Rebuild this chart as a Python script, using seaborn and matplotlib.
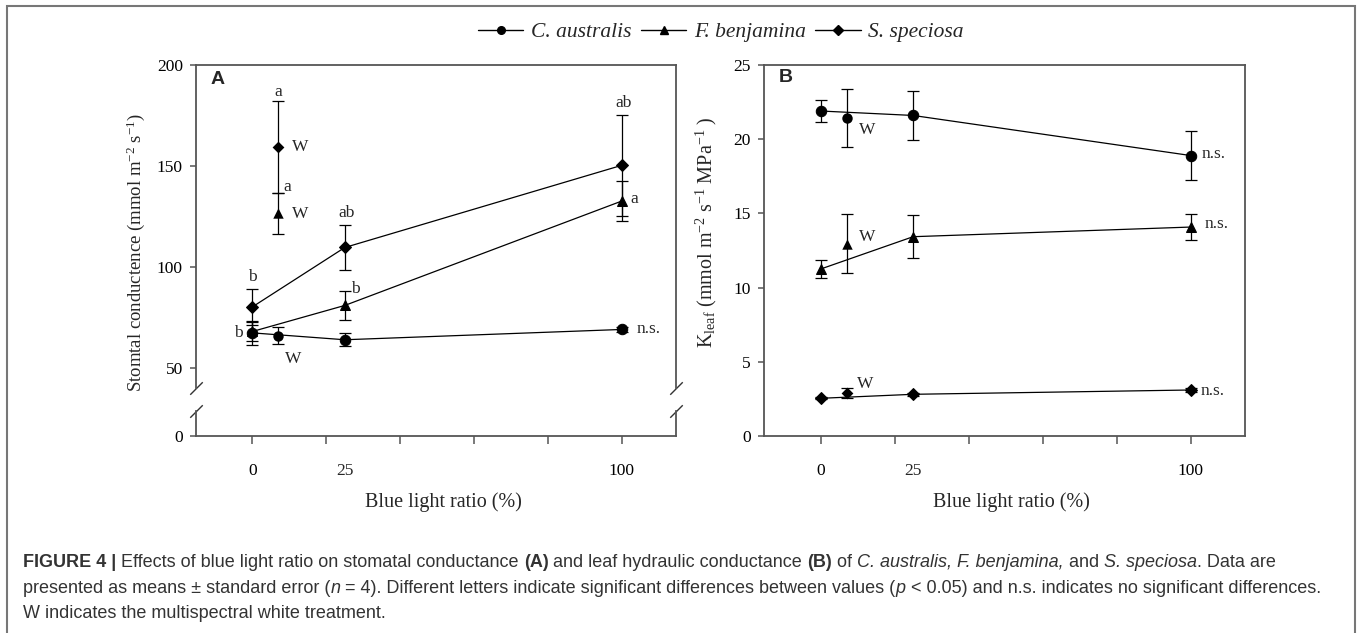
import numpy as np
import pandas as pd
import matplotlib
matplotlib.use("Agg")
import matplotlib.pyplot as plt
import seaborn as sns
from matplotlib.patches import Rectangle
from matplotlib.lines import Line2D
from matplotlib.font_manager import FontProperties

# ---- data ----
blue_ratio = [0, 25, 100]
white_x = 7  # position used for the multispectral white (W) treatment
species = ["C. australis", "F. benjamina", "S. speciosa"]
species_markers = ["o", "^", "D"]

# stomatal conductance (A)
gs_ca = [67.3, 63.9, 69.0]
gs_ca_se = [5.8, 3.1, 1.2]
gs_fb = [68.0, 80.9, 132.6]
gs_fb_se = [4.8, 7.2, 9.7]
gs_ss = [80.2, 109.6, 150.3]
gs_ss_se = [8.9, 11.2, 24.9]
gs_white = [66.0, 126.5, 159.5]
gs_white_se = [4.4, 10.3, 22.7]

# leaf hydraulic conductance (B)
kl_ca = [21.9, 21.6, 18.9]
kl_ca_se = [0.74, 1.63, 1.62]
kl_fb = [11.25, 13.43, 14.08]
kl_fb_se = [0.6, 1.46, 0.9]
kl_ss = [2.54, 2.81, 3.10]
kl_ss_se = [0.08, 0.10, 0.15]
kl_white = [21.4, 12.96, 2.88]
kl_white_se = [1.95, 1.97, 0.33]

# significance letters: (text, x, y)
letters_a = [("a", 7, 186.5), ("W", 13, 159.5), ("a", 9.4, 139.5), ("W", 12.9, 126.2),
             ("W", 11.1, 54.6), ("b", 0, 94.8), ("b", -3.9, 67.3), ("ab", 25.6, 126.8),
             ("b", 27.9, 88.8), ("ab", 100.5, 181), ("a", 103.4, 133.4), ("n.s.", 107.2, 69)]
letters_b = [("W", 12.5, 20.6), ("n.s.", 106.3, 19.0), ("W", 12.5, 13.4),
             ("n.s.", 107, 14.26), ("W", 12, 3.5), ("n.s.", 106, 3.05)]

sns.set_style("ticks")
plt.rcParams["font.family"] = ["Liberation Serif", "DejaVu Serif"]
plt.rcParams["mathtext.fontset"] = "custom"
plt.rcParams["mathtext.rm"] = "Liberation Serif"
plt.rcParams["mathtext.it"] = "Liberation Serif:italic"
plt.rcParams["mathtext.bf"] = "Liberation Serif:bold"

W, H = 1357, 633
fig = plt.figure(figsize=(W / 100, H / 100), dpi=100)
fig.patch.set_facecolor("white")


def px_box(left, top, right, bottom):
    return [left / W, 1 - bottom / H, (right - left) / W, (bottom - top) / H]


ax_top = fig.add_axes(px_box(196, 65, 676, 388))
ax_bot = fig.add_axes(px_box(196, 411, 676, 436))
ax_b = fig.add_axes(px_box(764, 65, 1245, 436))

spine_col = "#555555"
tick_fs = 12.5
for ax in (ax_top, ax_bot, ax_b):
    ax.set_facecolor("white")
    for s in ax.spines.values():
        s.set_color(spine_col)
        s.set_linewidth(1.3)
    ax.tick_params(colors=spine_col, labelcolor="black", labelsize=tick_fs,
                   direction="out", length=4.5, width=1.1, pad=5)
    ax.set_xlim(-15.3, 114.7)


def draw_panel(ax, means, ses, wmeans, wses, sizes):
    for name, m, ms, y, e, wy, we in zip(species, species_markers, sizes, means, ses, wmeans, wses):
        df = pd.DataFrame({"blue": blue_ratio, "val": y})
        ax.errorbar(blue_ratio, y, yerr=e, fmt="none", ecolor="black", elinewidth=0.9,
                    capsize=4, capthick=0.9, zorder=2)
        ax.errorbar([white_x], [wy], yerr=[we], fmt="none", ecolor="black", elinewidth=0.9,
                    capsize=4, capthick=0.9, zorder=2)
        sns.lineplot(data=df, x="blue", y="val", ax=ax, color="black", linewidth=0.9,
                     marker=m, markersize=ms, markeredgecolor="black", zorder=3)
        sns.scatterplot(x=[white_x], y=[wy], ax=ax, marker=m, s=ms ** 2, color="black",
                        edgecolor="black", linewidth=0, zorder=4)
    ax.set_xlabel("")
    ax.set_ylabel("")


sizes = [7.5, 7.5, 6]
draw_panel(ax_top, [gs_ca, gs_fb, gs_ss], [gs_ca_se, gs_fb_se, gs_ss_se], gs_white, gs_white_se, sizes)
draw_panel(ax_b, [kl_ca, kl_fb, kl_ss], [kl_ca_se, kl_fb_se, kl_ss_se], kl_white, kl_white_se, sizes)

# panel A: broken y axis
ax_top.set_ylim(40, 200)
ax_top.set_yticks([50, 100, 150, 200])
ax_top.spines["bottom"].set_visible(False)
ax_top.tick_params(axis="x", bottom=False, labelbottom=False)
ax_bot.set_ylim(0, 12.4)
ax_bot.set_yticks([0])
ax_bot.spines["top"].set_visible(False)

ax_b.set_ylim(0, 25)
ax_b.set_yticks([0, 5, 10, 15, 20, 25])

# x ticks every 20, but labels only at 0, 25 and 100
for ax in (ax_bot, ax_b):
    ax.set_xticks([0, 20, 40, 60, 80, 100])
    ax.set_xticklabels(["0", "", "", "", "", "100"])
    ax.tick_params(axis="x", which="major", length=6, pad=13.5)
    ax.set_xticks([25], minor=True)
    ax.set_xticklabels(["25"], minor=True)
    ax.tick_params(axis="x", which="minor", length=0, pad=19.2, labelsize=tick_fs)

# break marks
kw = dict(marker=[(-1, -1), (1, 1)], markersize=9, linestyle="none", color="#333333",
          mec="#333333", mew=1, clip_on=False)
ax_top.plot([0, 1], [0, 0], transform=ax_top.transAxes, **kw)
ax_bot.plot([0, 1], [1, 1], transform=ax_bot.transAxes, **kw)

for txt, x, y in letters_a:
    ax_top.text(x, y, txt, ha="center", va="center", fontsize=tick_fs)
for txt, x, y in letters_b:
    ax_b.text(x, y, txt, ha="center", va="center", fontsize=tick_fs)

ax_top.text(0.03, 0.955, "A", transform=ax_top.transAxes, fontsize=14, fontweight="bold",
            family="Liberation Sans", va="center", ha="left")
ax_b.text(0.03, 0.965, "B", transform=ax_b.transAxes, fontsize=14, fontweight="bold",
          family="Liberation Sans", va="center", ha="left")

fig.text(136 / W, 1 - 252 / H, r"Stomtal conductence (mmol m$^{\mathrm{-2}}$ s$^{\mathrm{-1}}$)",
         rotation=90, ha="center", va="center", fontsize=13.5)
fig.text(706 / W, 1 - 232 / H,
         r"K$_{\mathrm{leaf}}$ (mmol m$^{\mathrm{-2}}$ s$^{\mathrm{-1}}$ MPa$^{\mathrm{-1}}$ )",
         rotation=90, ha="center", va="center", fontsize=14.5)
fig.text(443 / W, 1 - 502 / H, "Blue light ratio (%)", ha="center", va="center", fontsize=14.5)
fig.text(1011 / W, 1 - 502 / H, "Blue light ratio (%)", ha="center", va="center", fontsize=14.5)

handles = [Line2D([], [], color="black", marker=m, markersize=5.5, linewidth=1)
           for m in species_markers]
fig.legend(handles, species, loc="center", bbox_to_anchor=(721 / W, 1 - 32 / H), ncol=3,
           frameon=False, handlelength=2.1, handletextpad=0.35, columnspacing=0.45,
           prop={"family": "Liberation Serif", "style": "italic", "size": 15.5})

# outer frame
fig.add_artist(Rectangle((7 / W, -0.02), 1348 / W, 1 - 6 / H + 0.02, transform=fig.transFigure,
                         fill=False, edgecolor="#777777", linewidth=1.5))

# caption with mixed styles
renderer = fig.canvas.get_renderer()
cap_col = "#333333"
cap_fs = 13


def run_width(s, weight, style):
    fp = FontProperties(family="Liberation Sans", size=cap_fs, weight=weight, style=style)
    w1, _, _ = renderer.get_text_width_height_descent(s + "x", fp, ismath=False)
    w2, _, _ = renderer.get_text_width_height_descent("x", fp, ismath=False)
    return w1 - w2


def caption_line(x, y, runs):
    for s, weight, style in runs:
        fig.text(x / W, 1 - y / H, s, family="Liberation Sans", fontsize=cap_fs, fontweight=weight,
                 fontstyle=style, color=cap_col, va="baseline", ha="left")
        x += run_width(s, weight, style)


N, B, I = "normal", "bold", "italic"
caption_line(23, 567, [("FIGURE 4 |", B, N), (" Effects of blue light ratio on stomatal conductance ", N, N),
                      ("(A)", B, N), (" and leaf hydraulic conductance ", N, N), ("(B)", B, N),
                      (" of ", N, N), ("C. australis, F. benjamina,", N, I), (" and ", N, N),
                      ("S. speciosa", N, I), (". Data are", N, N)])
caption_line(23, 593, [("presented as means \u00b1 standard error (", N, N), ("n", N, I),
                      (" = 4). Different letters indicate significant differences between values (", N, N),
                      ("p", N, I), (" < 0.05) and n.s. indicates no significant differences.", N, N)])
caption_line(23, 618, [("W indicates the multispectral white treatment.", N, N)])

fig.savefig("out.png", dpi=100, facecolor="white")
